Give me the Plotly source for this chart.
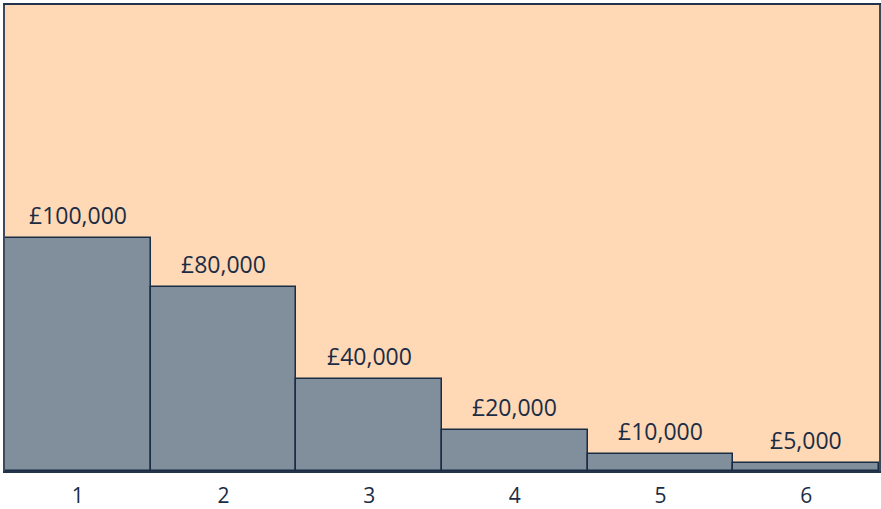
import plotly.graph_objects as go

# Données
categories = [1, 2, 3, 4, 5, 6]
bar_values = [100000, 79000, 39500, 17600, 7300, 3400]
bar_labels = ['£100,000', '£80,000', '£40,000', '£20,000', '£10,000', '£5,000']

navy = '#1b2d45'

fig = go.Figure()

fig.add_trace(go.Bar(
    x=categories,
    y=bar_values,
    marker=dict(color='#818e9b', line=dict(color=navy, width=1.5)),
    hoverinfo='skip',
))

# Étiquettes au-dessus des barres
for cat, val, lab in zip(categories, bar_values, bar_labels):
    fig.add_annotation(
        x=cat, y=val, text=lab, showarrow=False,
        yanchor='bottom', yshift=5,
        font=dict(size=23, color=navy, family='Open Sans'),
    )

fig.update_layout(
    width=881,
    height=509,
    margin=dict(l=5, r=0, t=5, b=31),
    paper_bgcolor='white',
    plot_bgcolor='#ffd8b5',
    bargap=0,
    showlegend=False,
    font=dict(family='Open Sans', color=navy, size=21),
)
fig.update_xaxes(
    range=[0.5, 6.5], tickvals=categories, showgrid=False, ticks='',
    zeroline=False, ticklabelstandoff=5,
    showline=True, linecolor='#22334a', linewidth=2, mirror=True,
    tickfont=dict(size=21, color=navy),
)
fig.update_yaxes(
    range=[0, 200000], showgrid=False, showticklabels=False, zeroline=False,
    showline=True, linecolor='#3e4a5a', linewidth=2, mirror=True,
)

fig.write_html('out.html', config={'displayModeBar': False},
               post_script="document.body.style.margin='0px';")
